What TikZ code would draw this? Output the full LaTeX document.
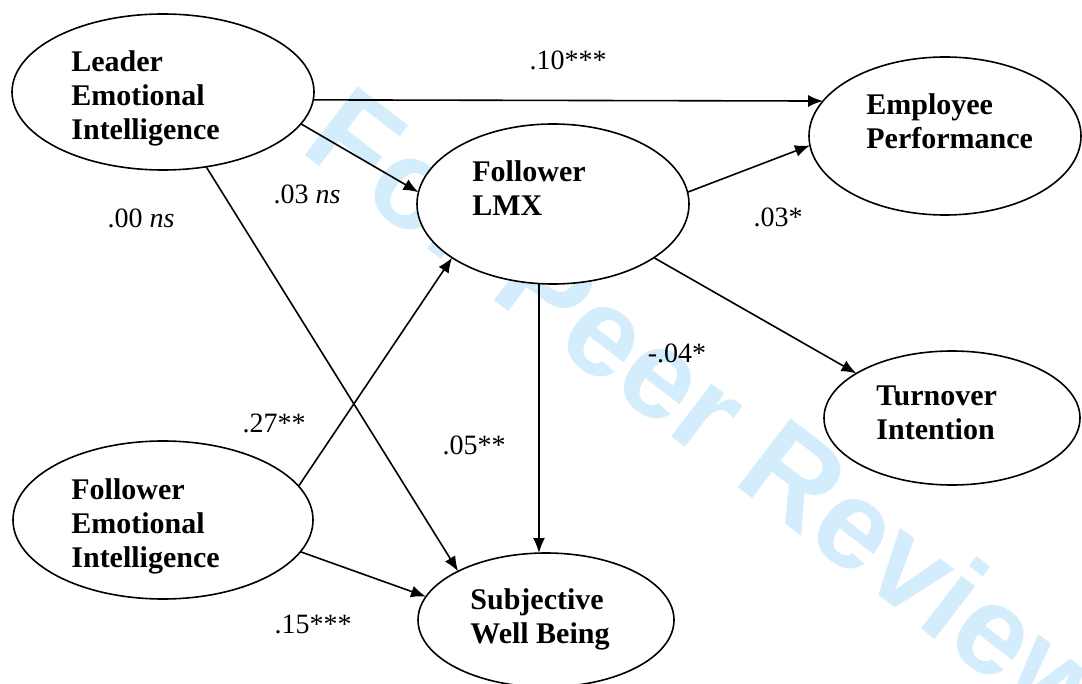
\documentclass[tikz,border=0pt]{standalone}
\usepackage{fontspec}
\setmainfont{Liberation Serif}
\newfontfamily\wmfont{Liberation Sans}
\usetikzlibrary{shapes.geometric,arrows.meta}
\definecolor{wmblue}{RGB}{212,237,252}
\newcommand\stk[1]{\begin{tabular}[t]{@{}l@{}}#1\end{tabular}}
\begin{document}
\begin{tikzpicture}[x=0.5pt,y=-0.5pt,
  latent/.style={draw,ellipse,fill=white,line width=0.8pt,inner sep=0pt,outer sep=0pt},
  lbl/.style={anchor=base west,inner sep=0pt,font=\fontsize{15}{17}\selectfont\bfseries},
  coef/.style={anchor=base,inner sep=0pt,font=\fontsize{14}{16}\selectfont},
  arr/.style={line width=0.8pt,-{Latex[length=7.5pt,width=6pt]}}]
\useasboundingbox (0,0) rectangle (1082,684);
\clip (0,0) rectangle (1082,684);
% watermark
\node[rotate=-37.5,anchor=base west,inner sep=0pt,text=wmblue,font=\wmfont\bfseries\fontsize{63}{63}\selectfont] (wm) at (298,150) {For Peer Review};
% latent variables
\node[latent,minimum width=151pt,minimum height=78pt] (lei) at (163,92) {};
\node[latent,minimum width=136pt,minimum height=80pt] (lmx) at (553,204) {};
\node[latent,minimum width=136pt,minimum height=79pt] (emp) at (945,136) {};
\node[latent,minimum width=128pt,minimum height=67pt] (tur) at (952,418) {};
\node[latent,minimum width=150pt,minimum height=79pt] (fei) at (163,520) {};
\node[latent,minimum width=128pt,minimum height=67pt] (swb) at (546,620) {};
% paths
\draw[arr] (lei.-3.8) -- (emp.164.5);
\draw[arr] (lei.-13.9) -- (lmx.175.3);
\draw[arr] (lei.-60) -- (swb.151);
\draw[arr] (fei.14) -- (lmx.208.5);
\draw[arr] (fei.-13.9) -- (swb.169.6);
\draw[arr] (lmx.-100) -- (lmx.-100 |- swb.north);
\draw[arr] (lmx.5) -- (emp.184.6);
\draw[arr] (lmx.-28) -- (tur.155.6);
% coefficients
\node[coef] (c1) at (568,70) {.10***};
\node[coef] (c2) at (307,204) {.03 \textit{ns}};
\node[coef] (c3) at (141,228) {.00 \textit{ns}};
\node[coef] (c4) at (778,227) {.03*};
\node[coef] (c5) at (677,363) {-.04*};
\node[coef] (c6) at (274,432) {.27**};
\node[coef] (c7) at (474,454) {.05**};
\node[coef] (c8) at (313,633) {.15***};
% texts
\node[lbl] (tlei) at (71,72) {\stk{Leader\\Emotional\\Intelligence}};
\node[lbl] (tlmx) at (472,182) {\stk{Follower\\LMX}};
\node[lbl] (temp) at (866,115) {\stk{Employee\\Performance}};
\node[lbl] (ttur) at (876,406) {\stk{Turnover\\Intention}};
\node[lbl] (tfei) at (71,499) {\stk{Follower\\Emotional\\Intelligence}};
\node[lbl] (tswb) at (470,609) {\stk{Subjective\\Well Being}};
\end{tikzpicture}
\end{document}
